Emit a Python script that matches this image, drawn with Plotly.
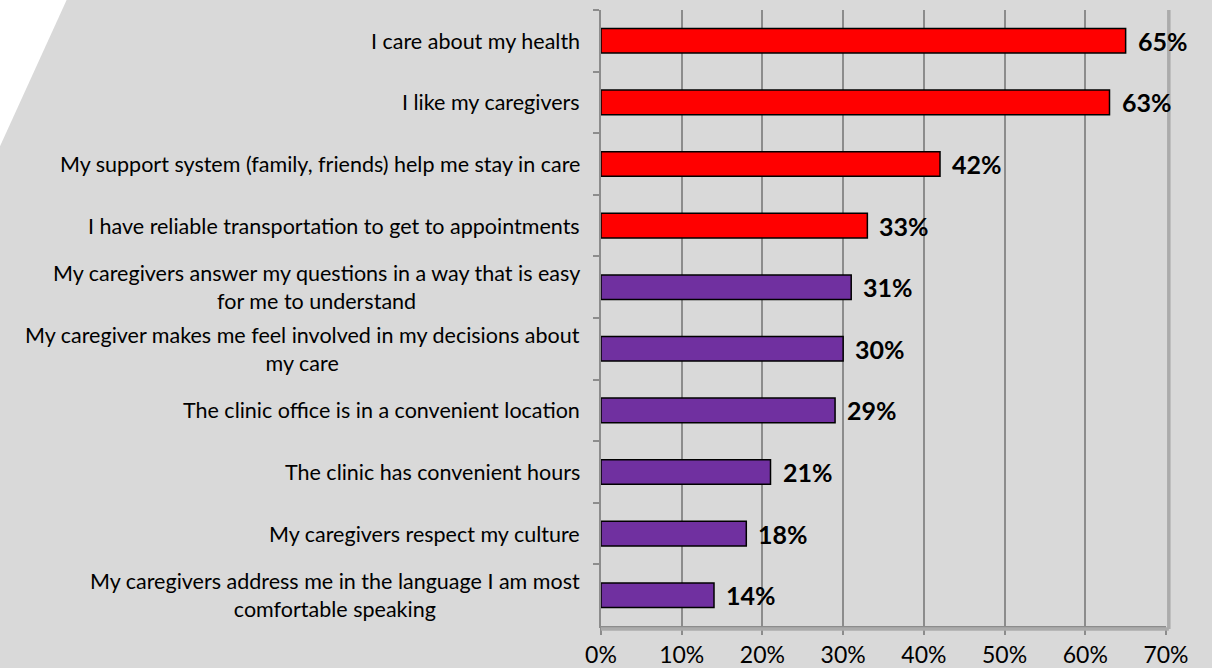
import plotly.graph_objects as go

# Survey reasons for staying in care, top to bottom
categories = [
    "I care about my health",
    "I like my caregivers",
    "My support system (family, friends) help me stay in care",
    "I have reliable transportation to get to appointments",
    "My caregivers answer my questions in a way that is easy<br>for me to understand",
    "My caregiver makes me feel involved in my decisions about<br>my care",
    "The clinic office is in a convenient location",
    "The clinic has convenient hours",
    "My caregivers respect my culture",
    "My caregivers address me in the language I am most<br>comfortable speaking",
]
percent = [65, 63, 42, 33, 31, 30, 29, 21, 18, 14]
group = ["top", "top", "top", "top", "other", "other", "other", "other", "other", "other"]
x_ticks = [0, 10, 20, 30, 40, 50, 60, 70]
x_tick_labels = [f"{t}%" for t in x_ticks]

palette = {"top": "#ff0000", "other": "#7030a0"}
font_family = "Lato, 'Open Sans', sans-serif"
grid_gray = "#8c8c8c"

fig = go.Figure()
fig.add_trace(go.Bar(
    x=percent,
    y=categories,
    orientation="h",
    marker=dict(color=[palette[g] for g in group], line=dict(color="#000000", width=1.5)),
    width=0.4,
    hoverinfo="skip",
))

# Bold value labels just past the end of each bar
for cat, v in zip(categories, percent):
    fig.add_annotation(
        x=v, xref="x", y=cat, yref="y",
        text=f"<b>{v}%</b>", showarrow=False,
        xanchor="left", yanchor="middle", xshift=10,
        font=dict(family=font_family, size=25, color="#000000"),
    )

# Category labels, right-aligned to the axis with centred wrapped lines
for cat in categories:
    fig.add_annotation(
        x=0, xref="paper", y=cat, yref="y",
        text=cat, showarrow=False,
        xanchor="right", yanchor="middle", align="center",
        xshift=-19,
        font=dict(family=font_family, size=21.5, color="#000000"),
    )

# Soft shadow along the right and bottom edges of the plot area
fig.add_shape(type="line", xref="paper", yref="paper", x0=1.005, x1=1.005, y0=-0.005, y1=1,
              line=dict(color="#ababab", width=3.5))
fig.add_shape(type="line", xref="paper", yref="paper", x0=0, x1=1.005, y0=-0.005, y1=-0.005,
              line=dict(color="#ababab", width=3.5))

# White wedge cutting the top-left corner of the slide background
fig.add_shape(type="path", xref="paper", yref="paper", layer="below",
              path="M -1.07 1.03 L -0.939 1.03 L -1.07 0.766 Z",
              fillcolor="#ffffff", line=dict(width=0))

fig.update_layout(
    width=1212, height=668,
    margin=dict(l=601, r=46, t=10, b=42),
    paper_bgcolor="#d9d9d9",
    plot_bgcolor="#d9d9d9",
    showlegend=False,
    bargap=0.6,
    font=dict(family=font_family, color="#000000"),
    xaxis=dict(
        range=[0, 70],
        tickvals=x_ticks,
        ticktext=x_tick_labels,
        tickfont=dict(size=23, family=font_family),
        showgrid=True, gridcolor=grid_gray, gridwidth=1.5,
        showline=True, linecolor=grid_gray, linewidth=1.5,
        ticks="outside", ticklen=7, tickcolor=grid_gray, tickwidth=1.5,
        ticklabelstandoff=1,
        automargin=False,
        zeroline=False, fixedrange=True,
    ),
    yaxis=dict(
        autorange="reversed",
        showticklabels=False,
        showline=True, linecolor=grid_gray, linewidth=1.5,
        ticks="outside", ticklen=6, tickcolor=grid_gray, tickwidth=1.5,
        tickson="boundaries",
        automargin=False,
        showgrid=False, fixedrange=True,
    ),
)

fig.write_html("out.html")
